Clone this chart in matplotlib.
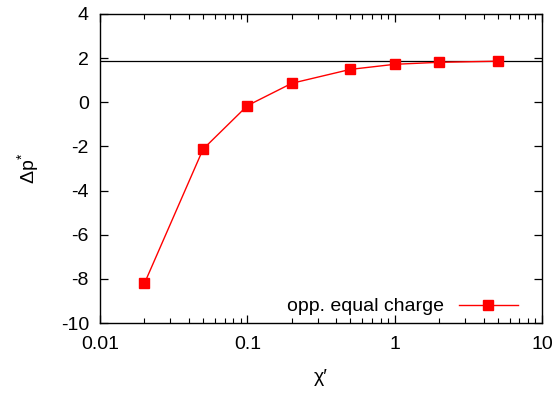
import matplotlib
matplotlib.use("Agg")
import matplotlib.pyplot as plt

plt.rcParams.update({
    "font.family": ["Liberation Sans", "DejaVu Sans"],
    "font.size": 14,
    "mathtext.fontset": "custom",
    "mathtext.rm": "Liberation Sans",
    "mathtext.it": "Liberation Sans",
    "xtick.direction": "in",
    "ytick.direction": "in",
    "xtick.top": True,
    "ytick.right": True,
    "axes.linewidth": 1.0,
})

# data
chi = [0.02, 0.05, 0.1, 0.2, 0.5, 1, 2, 5]
dp = [-8.2, -2.12, -0.15, 0.86, 1.49, 1.72, 1.81, 1.86]
ref_level = 1.87
yticks = [4, 2, 0, -2, -4, -6, -8, -10]
xticks = [0.01, 0.1, 1, 10]
xticklabels = ["0.01", "0.1", "1", "10"]

fig = plt.figure(figsize=(5.59, 3.98), dpi=100)
ax = fig.add_axes([0.179, 0.188, 0.791, 0.777])

ax.axhline(ref_level, color="black", lw=0.9)
ax.plot(chi, dp, color="red", lw=1.0, marker="s", ms=6.5,
        label="opp. equal charge")

ax.set_xscale("log")
ax.set_xlim(0.01, 10)
ax.set_ylim(-10, 4)
ax.set_xticks(xticks)
ax.set_xticklabels(xticklabels)
ax.set_yticks(yticks)
ax.set_yticklabels([str(t) for t in yticks])
ax.tick_params(which="major", length=6, width=0.9)
ax.tick_params(axis="x", which="major", pad=9)
ax.tick_params(axis="y", which="major", pad=8)
ax.tick_params(which="minor", length=3.5, width=0.8)
ax.tick_params(axis="y", which="minor", left=False, right=False)

ax.set_xlabel("χ′", labelpad=12)
ax.set_ylabel(r"$\Delta$p$^{*}$", labelpad=14)

ax.legend(loc="lower right", bbox_to_anchor=(0.962, 0.0), frameon=False,
          markerfirst=False, handlelength=3.0, borderaxespad=0.0,
          handletextpad=0.8)

fig.savefig("out.png", dpi=100)
